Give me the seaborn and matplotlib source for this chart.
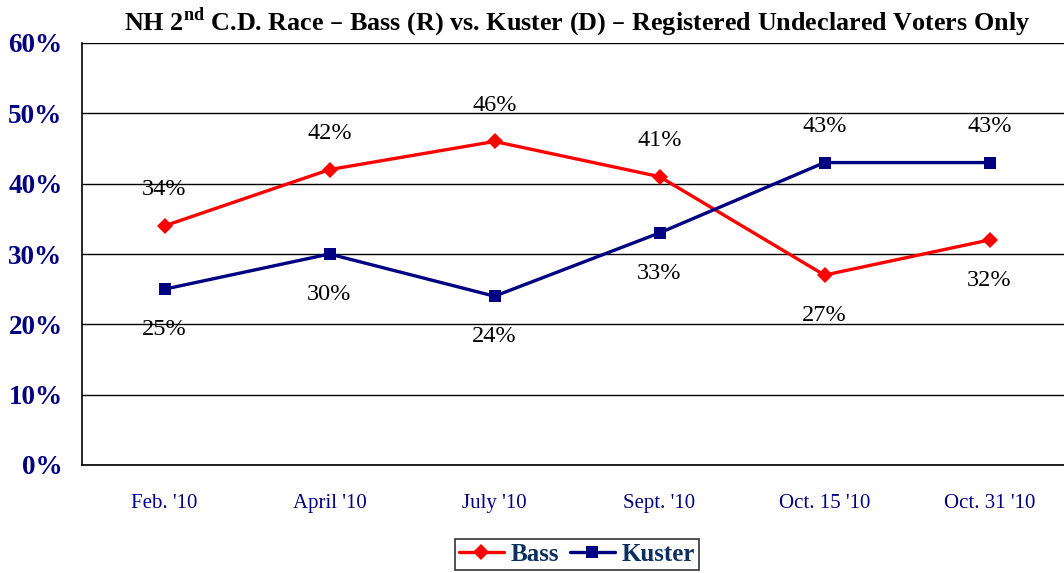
import pandas as pd
import numpy as np
import matplotlib
matplotlib.use("Agg")
import matplotlib.pyplot as plt
import seaborn as sns

# Poll data
polls = ["Feb. '10", "April '10", "July '10", "Sept. '10", "Oct. 15 '10", "Oct. 31 '10"]
bass = [34, 42, 46, 41, 27, 32]
kuster = [25, 30, 24, 33, 43, 43]

df = pd.DataFrame({
    "poll": polls * 2,
    "pos": list(range(len(polls))) * 2,
    "value": bass + kuster,
    "candidate": ["Bass"] * len(polls) + ["Kuster"] * len(polls),
})

sns.set_style("white")
plt.rcParams["font.family"] = ["Liberation Serif", "DejaVu Serif"]

fig = plt.figure(figsize=(10.64, 5.73), dpi=100)
ax = fig.add_axes([82 / 1064, 108 / 573, 990 / 1064, 422 / 573])

colors = {"Bass": "#ff0000", "Kuster": "#000080"}
markers = {"Bass": "D", "Kuster": "s"}
sizes = {"Bass": 8, "Kuster": 9}

for name in ["Bass", "Kuster"]:
    sub = df[df["candidate"] == name]
    sns.lineplot(data=sub, x="pos", y="value", ax=ax, color=colors[name],
                 marker=markers[name], markersize=sizes[name], markeredgewidth=0,
                 linewidth=2.4, label=name, zorder=3)

# data labels
bass_above = [True, True, True, True, False, False]
kuster_above = [False, False, False, False, True, True]
for vals, above in [(bass, bass_above), (kuster, kuster_above)]:
    for i, (v, a) in enumerate(zip(vals, above)):
        ax.annotate(f"{v}%", (i, v), xytext=(0, 26 if a else -29),
                    textcoords="offset points", ha="center", va="center",
                    fontsize=17.5, color="black")

ax.set_xlim(-0.5, len(polls) - 0.5)
ax.set_ylim(0, 60)
ax.set_yticks(range(0, 61, 10))
ax.set_yticklabels([f"{t}%" for t in range(0, 61, 10)], fontsize=19.5,
                   fontweight="bold", color="#000080")
ax.set_xticks(range(len(polls)))
ax.set_xticklabels(polls, fontsize=15, color="#000080")
ax.set_xticks(np.arange(-0.5, len(polls), 1), minor=True)
ax.tick_params(axis="x", which="major", length=0, pad=21)
ax.tick_params(axis="x", which="minor", length=6, width=1.2, direction="out", color="black")
ax.tick_params(axis="y", length=6, width=1.2, direction="out", color="black", pad=8)
ax.yaxis.grid(True, color="black", linewidth=1)
ax.set_axisbelow(True)
for s in ["top", "right"]:
    ax.spines[s].set_visible(False)
for s in ["left", "bottom"]:
    ax.spines[s].set_color("black")
    ax.spines[s].set_linewidth(1.2)
ax.set_xlabel("")
ax.set_ylabel("")

ax.legend(loc="upper center", bbox_to_anchor=(577 / 1064, 39 / 573),
          bbox_transform=fig.transFigure, ncol=2, frameon=True, fancybox=False,
          edgecolor="black", handlelength=1.8, columnspacing=0.4, handletextpad=0.3,
          borderpad=0.15, borderaxespad=0.2,
          prop={"family": "Liberation Serif", "weight": "bold", "size": 18})
ax.get_legend().get_frame().set_linewidth(1.2)
for t in ax.get_legend().get_texts():
    t.set_color("#0b2f5e")

fig.text(577 / 1064, 1 - 22 / 573, "NH 2$^{\\mathregular{nd}}$ C.D. Race \u2013 Bass (R) vs. Kuster (D) \u2013 Registered Undeclared Voters Only",
         ha="center", va="center", fontsize=18.8, fontweight="bold", color="black")

fig.savefig("out.png", dpi=100)
